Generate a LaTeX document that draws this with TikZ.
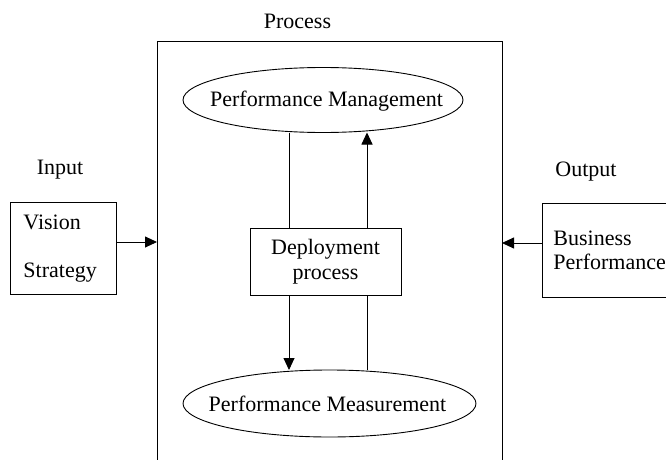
\documentclass[tikz,border=0pt]{standalone}
\usepackage{fontspec}
\setmainfont{Liberation Serif}
\usetikzlibrary{arrows.meta,shapes.geometric}
\begin{document}
\begin{tikzpicture}[x=1pt,y=-1pt,line width=0.9pt,
  txt/.style={font=\fontsize{22}{25}\selectfont, inner sep=0pt},
  box/.style={draw, rectangle, inner sep=0pt, outer sep=0pt},
  ell/.style={draw, ellipse, inner sep=0pt, outer sep=0pt},
  arr/.style={-{Triangle[length=12pt,width=11pt]}}]
\useasboundingbox (0,0) rectangle (666,460);
\clip (0,0) rectangle (666,460);
% process frame
\node[box, minimum width=345pt, minimum height=440pt] (proc) at (329.5,261) {};
\node[txt] (proclbl) at (297.5,21) {Process};
% ellipses
\node[ell, minimum width=280pt, minimum height=65pt] (pm) at (323,100) {};
\node[txt] (pmtxt) at (326.5,101) {Performance Management};
\node[ell, minimum width=293pt, minimum height=67pt] (pmeas) at (329.5,403.5) {};
\node[txt] (pmeastxt) at (327.5,404) {Performance Measurement};
% deployment box
\node[box, txt, align=center, minimum width=151pt, minimum height=67pt] (dep) at (325.5,261.5) {Deployment\\process};
% input
\node[txt] (inlbl) at (60,170) {Input};
\node[box, minimum width=106pt, minimum height=92pt] (lbox) at (63,248) {};
\node[txt, anchor=west] (vis) at (23,222) {Vision};
\node[txt, anchor=west] (str) at (23,273) {Strategy};
% output
\node[txt] (outlbl) at (586,172) {Output};
\node[box, minimum width=158pt, minimum height=94pt] (rbox) at (621,250) {};
\node[txt, anchor=west] (bus) at (553,238) {Business};
\node[txt, anchor=west] (perf) at (553,262) {Performance};
% connectors
\coordinate (lx) at (289,0);
\coordinate (rx) at (367,0);
\coordinate (ay) at (0,242);
\coordinate (by) at (0,243);
\draw (pm.south -| lx) -- (dep.north -| lx);
\draw[arr] (dep.south -| lx) -- (pmeas.north -| lx);
\draw (pmeas.north -| rx) -- (dep.south -| rx);
\draw[arr] (dep.north -| rx) -- (pm.south -| rx);
\draw[arr] (lbox.east |- ay) -- (proc.west |- ay);
\draw[arr] (rbox.west |- by) -- (proc.east |- by);
\end{tikzpicture}
\end{document}
